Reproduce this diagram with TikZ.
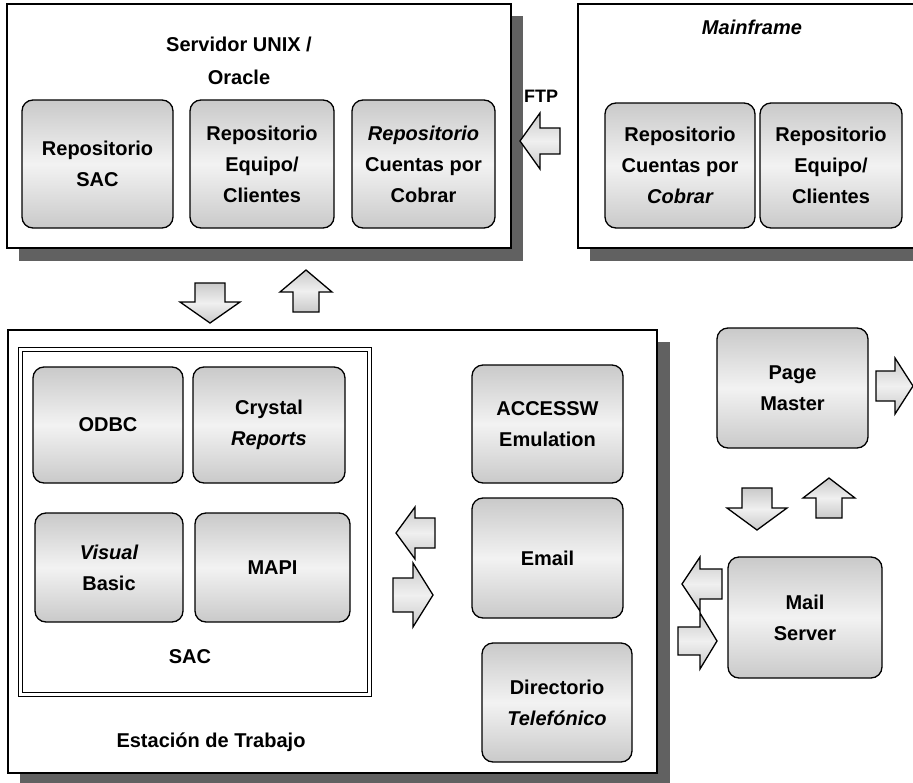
\documentclass[tikz,border=0pt]{standalone}
\usepackage{fontspec}
\setmainfont{Liberation Sans}
\newcommand\myH[6]{\path[arw] (#1,#4-#5) -- (#3,#4-#5) -- (#3,#4-#6) -- (#2,#4) -- (#3,#4+#6) -- (#3,#4+#5) -- (#1,#4+#5) -- cycle;}
\newcommand\myV[6]{\path[arw] (#4-#5,#1) -- (#4-#5,#3) -- (#4-#6,#3) -- (#4,#2) -- (#4+#6,#3) -- (#4+#5,#3) -- (#4+#5,#1) -- cycle;}
\begin{document}
\begin{tikzpicture}[x=1pt,y=-1pt,
  rbox/.style={draw=black, line width=1.3pt, rounded corners=11pt, top color=gray!42, bottom color=gray!42, middle color=gray!10, align=center, font=\bfseries\fontsize{20}{31}\selectfont, inner sep=0pt},
  frame/.style={draw=black, line width=1.1pt, fill=white, inner sep=0pt},
  shadow/.style={fill=black!62, draw=none},
  arw/.style={draw=black, line width=1.3pt, top color=gray!42, bottom color=gray!42, middle color=gray!12},
  lbl/.style={font=\bfseries\fontsize{20}{33}\selectfont, align=center, inner sep=0pt}]
\useasboundingbox (0,0) rectangle (913,782);
\clip (0,0) rectangle (913,782);
% shadows
\fill[shadow] (19,16) rectangle (523,261);
\fill[shadow] (590,16) rectangle (930,261);
\fill[shadow] (20,342) rectangle (670,790);
% frames
\node[frame, minimum width=504pt, minimum height=244pt] (srv) at (259,126) {};
\node[frame, minimum width=340pt, minimum height=244pt] (mf) at (748,126) {};
\node[frame, minimum width=649pt, minimum height=443pt] (est) at (332.5,551.5) {};
\node[draw=black, line width=1.1pt, double, double distance=3pt, minimum width=349pt, minimum height=345pt, inner sep=0pt] (sac) at (195,522) {};
% titles
\node[lbl] (srvt) at (239,61) {Servidor UNIX /\\Oracle};
\node[lbl, font=\bfseries\itshape\fontsize{20}{33}\selectfont] (mft) at (752,27) {Mainframe};
\node[lbl] (saclbl) at (190,657) {SAC};
\node[lbl] (estlbl) at (211,742) {Estación de Trabajo};
\node[inner sep=0pt, font=\bfseries\fontsize{18}{20}\selectfont] (ftp) at (541,96) {FTP};
% servidor boxes
\node[rbox, minimum width=151pt, minimum height=128pt] (rsac) at (97.5,164) {Repositorio\\SAC};
\node[rbox, minimum width=144pt, minimum height=128pt] (reqc) at (262,164) {Repositorio\\Equipo/\\Clientes};
\node[rbox, minimum width=143pt, minimum height=128pt] (rcxc) at (423.5,164) {{\itshape Repositorio}\\Cuentas por\\Cobrar};
% mainframe boxes
\node[rbox, minimum width=150pt, minimum height=125pt] (mcxc) at (680,165.5) {Repositorio\\Cuentas por\\{\itshape Cobrar}};
\node[rbox, minimum width=142pt, minimum height=125pt] (meqc) at (831,165.5) {Repositorio\\Equipo/\\Clientes};
% SAC boxes
\node[rbox, minimum width=150pt, minimum height=116pt] (odbc) at (108,425) {ODBC};
\node[rbox, minimum width=152pt, minimum height=116pt] (crys) at (269,425) {Crystal\\{\itshape Reports}};
\node[rbox, minimum width=148pt, minimum height=109pt] (vb) at (109,567.5) {{\itshape Visual}\\Basic};
\node[rbox, minimum width=155pt, minimum height=109pt] (mapi) at (272.5,567.5) {MAPI};
% workstation boxes
\node[rbox, minimum width=151pt, minimum height=118pt] (acc) at (547.5,424) {ACCESSW\\Emulation};
\node[rbox, minimum width=151pt, minimum height=120pt] (email) at (547.5,558) {Email};
\node[rbox, minimum width=150pt, minimum height=119pt] (dir) at (557,702.5) {Directorio\\{\itshape Telefónico}};
% right side
\node[rbox, minimum width=151pt, minimum height=120pt] (pm) at (792.5,388) {Page\\Master};
\node[rbox, minimum width=154pt, minimum height=121pt] (mail) at (805,617.5) {Mail\\Server};
% block arrows
\myH{560}{520}{540}{141}{13}{28}
\myV{283}{323}{302}{210}{15}{30}
\myV{312}{270}{292}{306}{13}{26}
\myH{435}{396}{415}{533}{15}{26}
\myH{393}{433}{413}{595}{17}{32}
\myH{876}{913}{895}{386}{15}{28}
\myV{488}{530}{508}{757}{15}{30}
\myV{518}{478}{498}{829}{13}{26}
\myH{722}{682}{700}{584}{15}{27}
\myH{678}{717}{700}{641}{14}{28}
\end{tikzpicture}
\end{document}
